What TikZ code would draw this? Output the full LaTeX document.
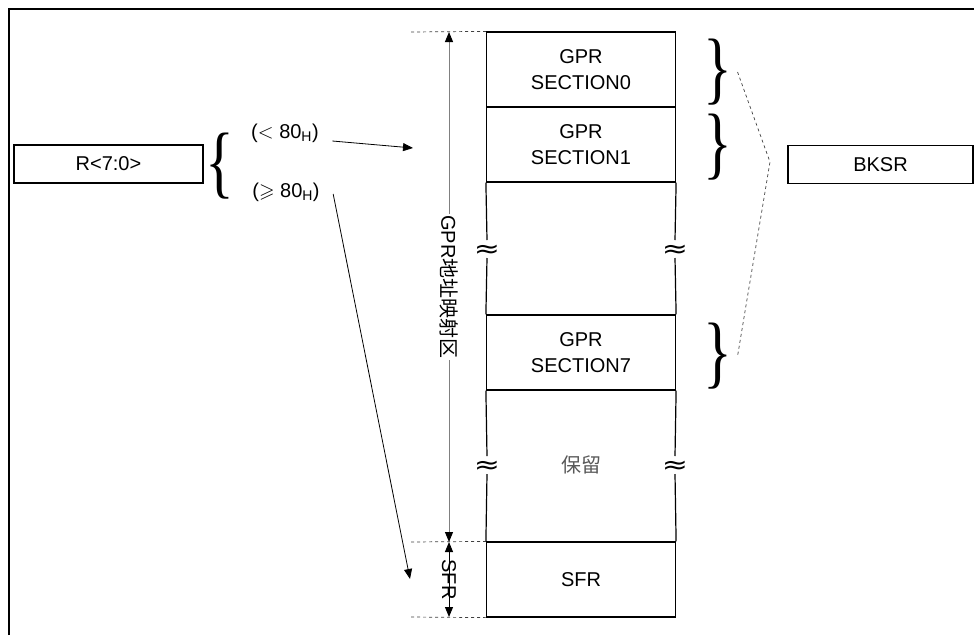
\documentclass[tikz,border=0pt]{standalone}
\usepackage{fontspec}
\usepackage{amssymb}
\setmainfont{Liberation Sans}
\newfontfamily\cjk{Noto Sans CJK SC}
\newfontfamily\brfont{Liberation Serif}
\newfontfamily\symfont{DejaVu Sans}
\usetikzlibrary{arrows.meta}

\tikzset{
  memblk/.style={draw, line width=1.2pt, minimum width=189pt, minimum height=75pt, align=center, inner sep=0pt},
  regbox/.style={draw, line width=1.2pt, minimum height=38pt, inner sep=0pt},
  wave/.style={inner sep=0pt, outer sep=0pt, xscale=1.25, text height=9pt, text depth=9pt, font=\symfont\fontsize{25}{25}\selectfont},
  bigbrace/.style={inner sep=0pt, xscale=0.75, font=\brfont\fontsize{80}{80}\selectfont},
  dimline/.style={draw=black!50, line width=1pt},
  guide/.style={dashed, line width=0.7pt, draw=black!75},
  vlabel/.style={rotate=-90, fill=white, inner sep=1pt}
}
\newcommand{\wavemark}{\raisebox{-8pt}{≈}}

\begin{document}
\begin{tikzpicture}[x=1pt, y=-1pt,
    >={Triangle[length=10pt, width=8pt, color=black]},
    font=\fontsize{20}{26}\selectfont]
  \useasboundingbox (0,0) rectangle (974,635);
  \draw[line width=2pt] (9,635) -- (9,9) -- (974,9);

  % memory column
  \node[memblk] (sec0) at (581,69.5)  {GPR\\SECTION0};
  \node[memblk] (sec1) at (581,144.5) {GPR\\SECTION1};
  \node[memblk] (sec7) at (581,352.5) {GPR\\SECTION7};
  \node[memblk] (sfr)  at (581,579.5) {SFR};
  \node[text=black!65] (resv) at (581,465) {\cjk 保留};

  % broken sides
  \node[wave] (wa1) at (487,249) {\wavemark};
  \node[wave] (wb1) at (675,249) {\wavemark};
  \node[wave] (wa2) at (487,465) {\wavemark};
  \node[wave] (wb2) at (675,465) {\wavemark};
  \draw[line width=1.2pt] (sec1.south west) -- (wa1.north) (wa1.south) -- (sec7.north west);
  \draw[line width=1.2pt] (sec1.south east) -- (wb1.north) (wb1.south) -- (sec7.north east);
  \draw[line width=1.2pt] (sec7.south west) -- (wa2.north) (wa2.south) -- (sfr.north west);
  \draw[line width=1.2pt] (sec7.south east) -- (wb2.north) (wb2.south) -- (sfr.north east);

  % dimensions
  \coordinate (d0) at (411,32);
  \coordinate (d1) at (411,542);
  \coordinate (d2) at (411,617);
  \coordinate (gtop) at (449,32);
  \coordinate (gbot) at (449,542);
  \coordinate (sbot) at (449,617);
  \draw[guide] (d0) -- (sec0.north west);
  \draw[guide] (d1) -- (sfr.north west);
  \draw[guide] (d2) -- (sfr.south west);
  \draw[dimline, <->] (gtop) -- node[vlabel] {GPR\cjk 地址映射区} (gbot);
  \draw[line width=1pt, <->] (gbot) -- node[vlabel, fill=none] {SFR} (sbot);

  % register side
  \node[regbox, minimum width=189pt] (reg) at (108.5,164) {R<7:0>};
  \node[bigbrace] (lbr) at (220,166) {\{};
  \node (lt) at (285,133) {($<$ 80\textsubscript{H})};
  \node (ge) at (286,192) {($\geqslant$ 80\textsubscript{H})};
  \coordinate (tgpr) at (413,148);
  \coordinate (tsfr) at (410,579);
  \draw[->, line width=0.8pt] ([shift={(10,8)}]lt.east) -- (tgpr);
  \draw[->, line width=0.8pt] ([shift={(10,2)}]ge.east) -- (tsfr);

  % bank select
  \node[bigbrace] (rb0) at (718,72)  {\}};
  \node[bigbrace] (rb1) at (718,147) {\}};
  \node[bigbrace] (rb7) at (718,356) {\}};
  \coordinate (bk) at (770,162);
  \draw[guide] ([xshift=5pt]rb0.east) -- (bk) -- ([xshift=5pt]rb7.east);
  \node[regbox, minimum width=185pt] (bksr) at (880.5,164.5) {BKSR};
\end{tikzpicture}
\end{document}
